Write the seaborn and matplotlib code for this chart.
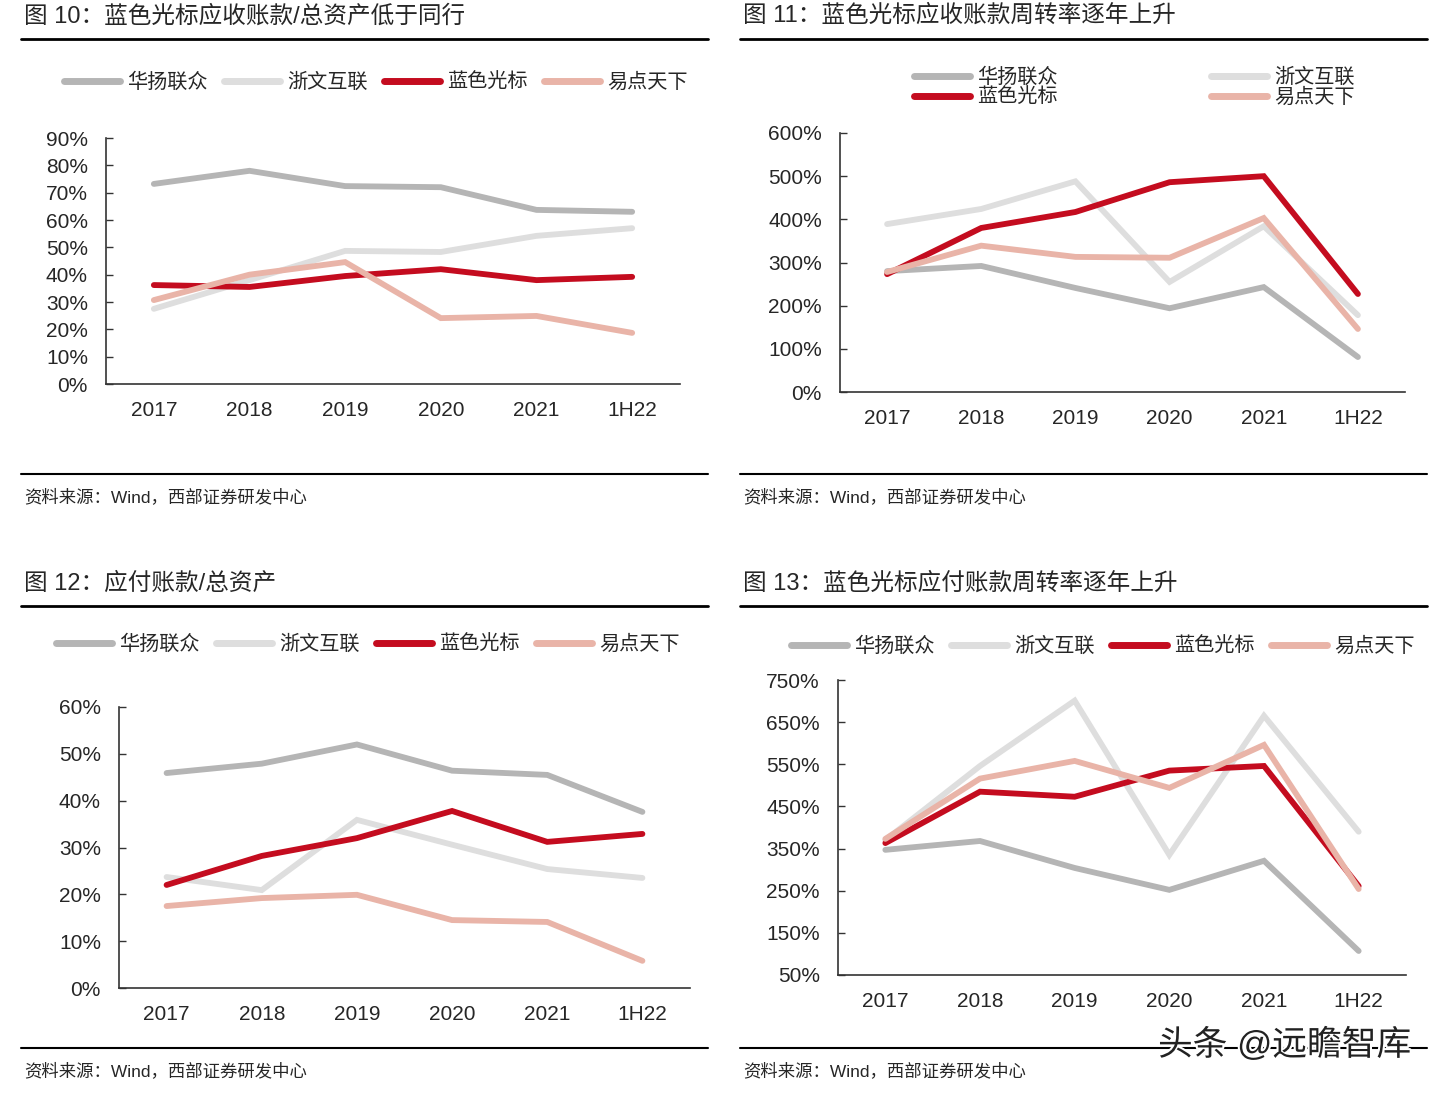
import matplotlib.pyplot as plt
import matplotlib.patheffects as pe
import seaborn as sns
import numpy as np
import pandas as pd

# categories and companies
years = ['2017', '2018', '2019', '2020', '2021', '1H22']
companies = ['华扬联众', '浙文互联', '蓝色光标', '易点天下']
colors = ['#b5b5b5', '#dedede', '#c40c1f', '#e9b4a8']

# fig 10: receivables / total assets (%)
ar_assets_hy = [73.2, 78.0, 72.4, 72.0, 63.7, 63.0]
ar_assets_zw = [27.5, 38.0, 48.7, 48.3, 54.2, 57.0]
ar_assets_bf = [36.2, 35.5, 39.5, 42.0, 38.0, 39.2]
ar_assets_yd = [30.7, 40.0, 44.6, 24.1, 24.9, 18.7]

# fig 11: receivables turnover (%)
ar_turn_hy = [280, 292, 241, 194, 243, 81]
ar_turn_zw = [389, 424, 488, 255, 384, 178]
ar_turn_bf = [273, 380, 417, 486, 500, 227]
ar_turn_yd = [278, 339, 313, 311, 403, 146]

# fig 12: payables / total assets (%)
ap_assets_hy = [45.9, 47.9, 52.0, 46.4, 45.5, 37.6]
ap_assets_zw = [23.7, 20.9, 35.9, 30.6, 25.4, 23.5]
ap_assets_bf = [22.0, 28.2, 32.0, 37.8, 31.2, 32.9]
ap_assets_yd = [17.5, 19.2, 19.9, 14.5, 14.1, 5.8]

# fig 13: payables turnover (%)
ap_turn_hy = [347, 368, 304, 252, 321, 107]
ap_turn_zw = [370, 546, 701, 335, 665, 390]
ap_turn_bf = [363, 485, 473, 535, 546, 261]
ap_turn_yd = [373, 516, 558, 494, 596, 254]

sns.set_style('white')
plt.rcParams['font.family'] = ['Liberation Sans', 'Noto Sans CJK SC']

W, H = 1455, 1093
fig = plt.figure(figsize=(W / 100, H / 100), dpi=100)


def fx(px):
    return px / W


def fy(py):
    return 1 - py / H


def make_df(series):
    rows = []
    for name, vals in zip(companies, series):
        for i, v in enumerate(vals):
            rows.append({'x': i, 'value': v, 'company': name})
    return pd.DataFrame(rows)


panels = [
    dict(title='图 10：蓝色光标应收账款/总资产低于同行', tx=24, ty=16, rule_x=(21, 708),
         rule_top=39, rule_bot=474, src_y=497,
         box=(106, 138, 680, 384), ylim=(0, 90), step=10,
         series=[ar_assets_hy, ar_assets_zw, ar_assets_bf, ar_assets_yd],
         leg=(376, 82), ncol=4),
    dict(title='图 11：蓝色光标应收账款周转率逐年上升', tx=743, ty=16, rule_x=(740, 1427),
         rule_top=39, rule_bot=474, src_y=497,
         box=(840, 133, 1405, 392), ylim=(0, 600), step=100,
         series=[ar_turn_hy, ar_turn_zw, ar_turn_bf, ar_turn_yd],
         leg=(1134, 87), ncol=2),
    dict(title='图 12：应付账款/总资产', tx=24, ty=584, rule_x=(21, 708),
         rule_top=606, rule_bot=1048, src_y=1071,
         box=(119, 707, 690, 988), ylim=(0, 60), step=10,
         series=[ap_assets_hy, ap_assets_zw, ap_assets_bf, ap_assets_yd],
         leg=(368, 644), ncol=4),
    dict(title='图 13：蓝色光标应付账款周转率逐年上升', tx=743, ty=584, rule_x=(740, 1427),
         rule_top=606, rule_bot=1048, src_y=1071,
         box=(838, 680, 1406, 975), ylim=(50, 750), step=100,
         series=[ap_turn_hy, ap_turn_zw, ap_turn_bf, ap_turn_yd],
         leg=(1103, 646), ncol=4),
]

for p in panels:
    # title, rules, source
    fig.text(fx(p['tx']), fy(p['ty']), p['title'], fontsize=17, va='center', ha='left')
    for ry, lw in [(p['rule_top'], 2.0), (p['rule_bot'], 1.5)]:
        fig.add_artist(plt.Line2D([fx(p['rule_x'][0]), fx(p['rule_x'][1])], [fy(ry), fy(ry)],
                                  color='black', lw=lw, transform=fig.transFigure))
    fig.text(fx(p['tx']), fy(p['src_y']), '资料来源：Wind，西部证券研发中心', fontsize=12.5,
             va='center', ha='left')

    x0, y0, x1, y1 = p['box']
    ax = fig.add_axes([fx(x0), fy(y1), fx(x1 - x0), (y1 - y0) / H])
    df = make_df(p['series'])
    sns.lineplot(data=df, x='x', y='value', hue='company', hue_order=companies,
                 palette=colors, linewidth=4.2, ax=ax, legend=False)
    for ln in ax.lines:
        ln.set_solid_capstyle('round')
        ln.set_solid_joinstyle('miter')

    lo, hi = p['ylim']
    ax.set_ylim(lo, hi)
    ax.set_xlim(-0.5, 5.5)
    yt = np.arange(lo, hi + 0.1, p['step'])
    ax.set_yticks(yt)
    ax.set_yticklabels([f'{int(v)}%' for v in yt])
    ax.set_xticks(range(6))
    ax.set_xticklabels(years)
    ax.set_xticks(np.arange(-0.5, 5.6, 1), minor=True)
    ax.tick_params(axis='x', which='major', length=0, pad=12, labelsize=15)
    ax.tick_params(axis='x', which='minor', length=5, width=1, direction='in', color='#333333')
    ax.tick_params(axis='y', length=5, width=1, direction='in', pad=13, labelsize=15,
                   color='#333333', left=True)
    ax.set_xlabel('')
    ax.set_ylabel('')
    for s in ['top', 'right']:
        ax.spines[s].set_visible(False)
    for s in ['left', 'bottom']:
        ax.spines[s].set_color('#333333')
        ax.spines[s].set_linewidth(1.2)
    ax.grid(False)

    handles = [plt.Line2D([], [], color=c, lw=5, solid_capstyle='round') for c in colors]
    labels = list(companies)
    if p['ncol'] == 2:
        order = [0, 2, 1, 3]
        handles = [handles[i] for i in order]
        labels = [labels[i] for i in order]
        colsp = 7.6
    else:
        colsp = 0.8
    ax.legend(handles, labels, loc='center', bbox_to_anchor=(fx(p['leg'][0]), fy(p['leg'][1])),
              bbox_transform=fig.transFigure, ncol=p['ncol'], frameon=False, fontsize=14.5,
              handlelength=2.8, handletextpad=0.35, columnspacing=colsp, labelspacing=0.05,
              borderpad=0)

# watermark
fig.text(fx(1158), fy(1045), '头条 @远瞻智库', fontsize=25, va='center', ha='left',
         color='#222222',
         path_effects=[pe.withStroke(linewidth=3, foreground='white')])

fig.savefig('out.png', dpi=100)
